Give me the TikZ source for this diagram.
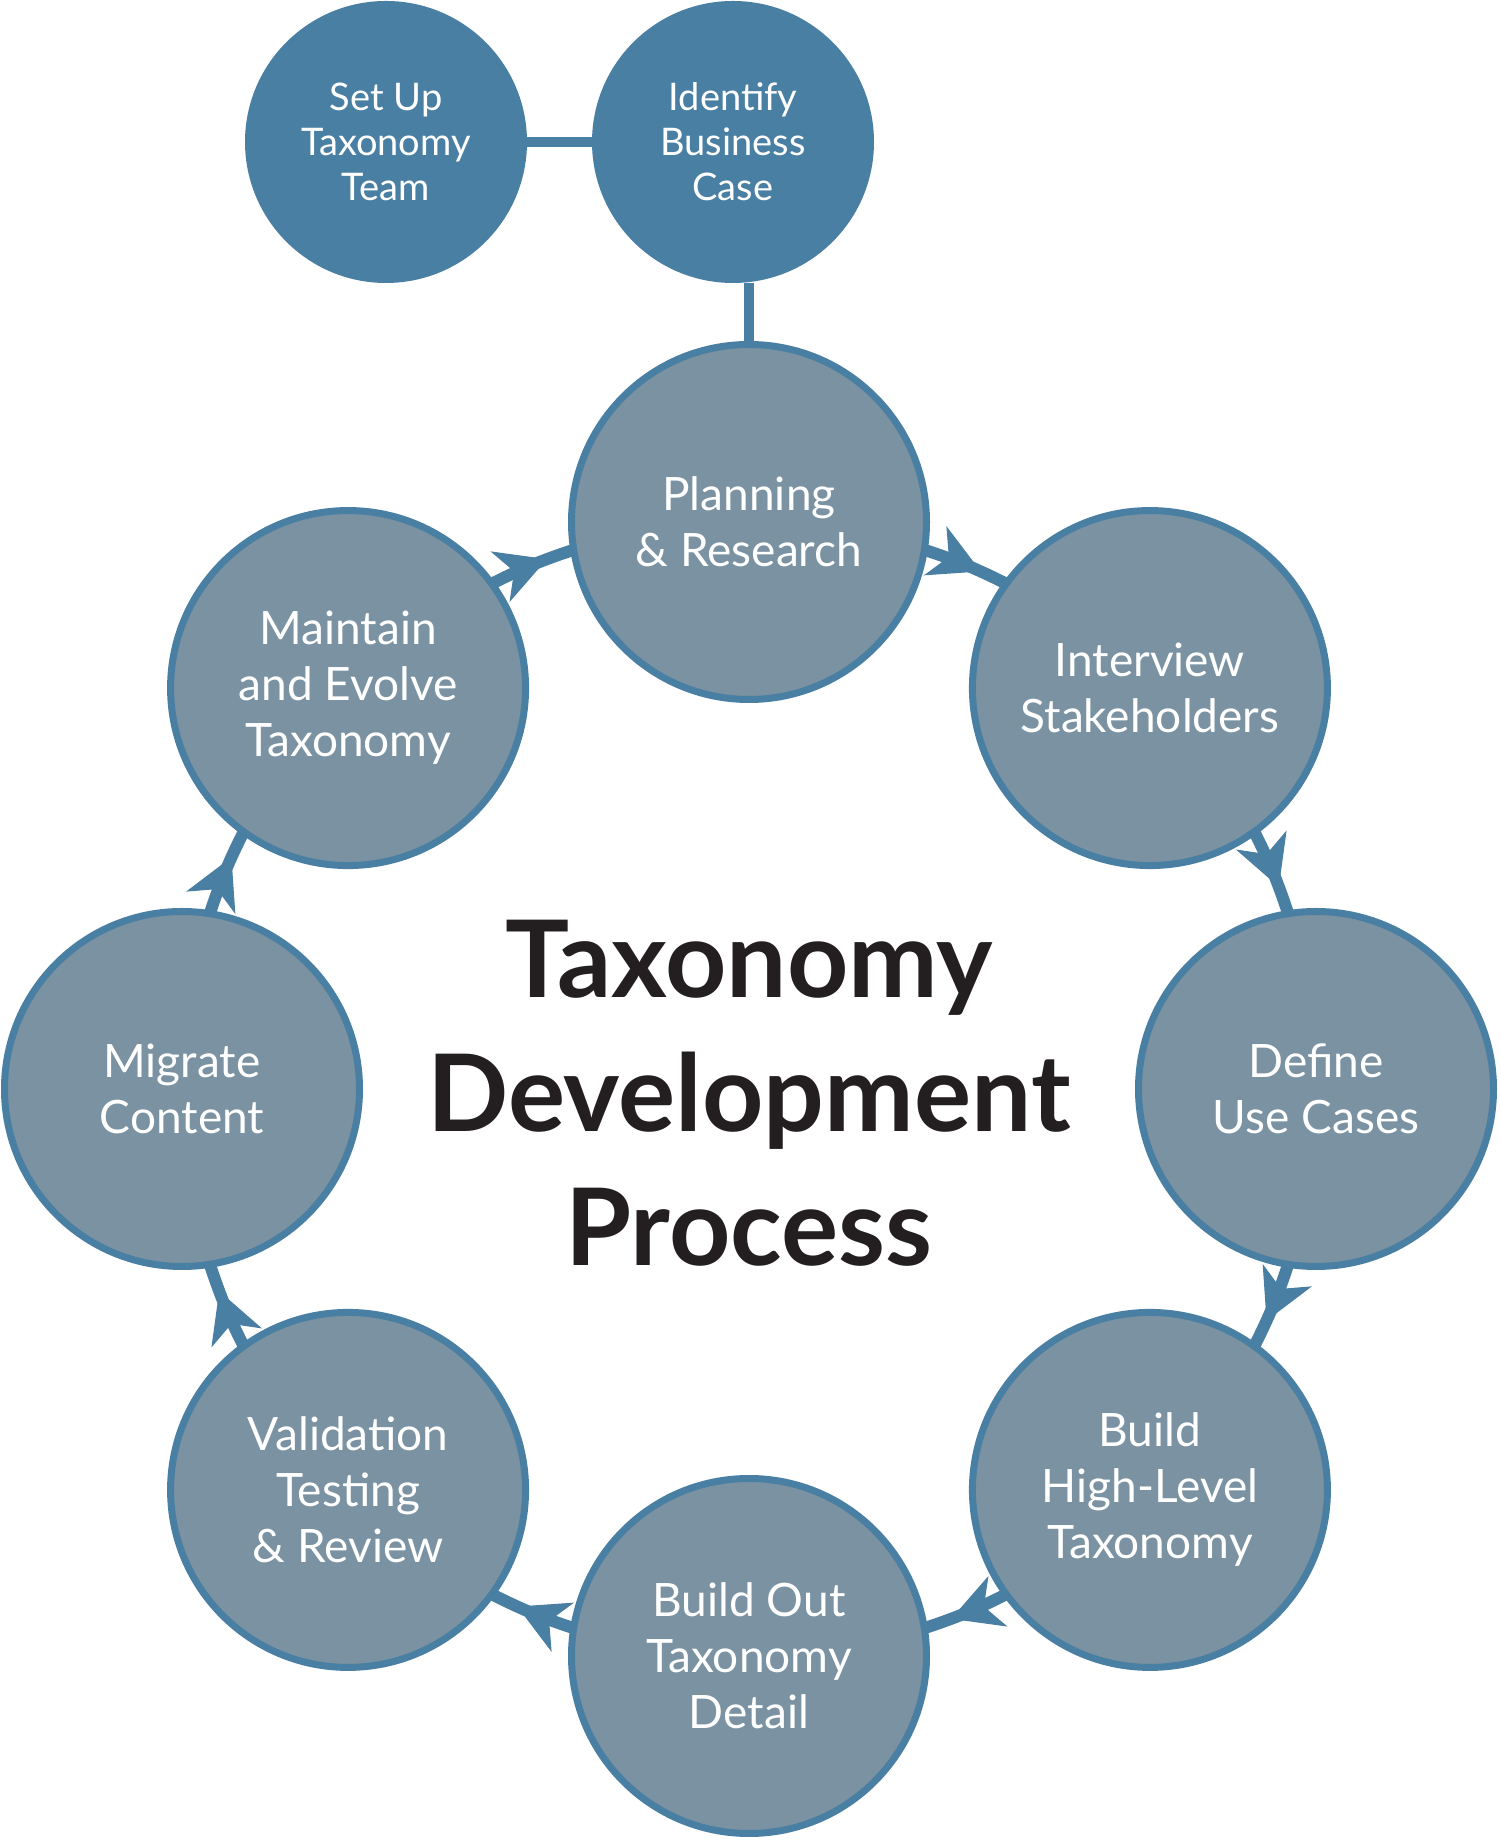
\documentclass[tikz,border=0pt]{standalone}
\usepackage{fontspec}
\setmainfont{Lato}
\usetikzlibrary{arrows.meta,calc,decorations.markings}
\definecolor{bluec}{HTML}{4A7FA4}
\definecolor{grayc}{HTML}{7A92A1}
\definecolor{titlec}{HTML}{231F20}
\tikzset{
  mainc/.style={circle, fill=grayc, draw=bluec, line width=7pt, minimum size=355pt, inner sep=0pt, align=center, text=white, font=\fontsize{46}{56}\selectfont},
  topc/.style={circle, fill=bluec, minimum size=282pt, inner sep=0pt, align=center, text=white, font=\fontsize{38}{45}\selectfont},
  link/.style={draw=bluec, line width=10pt},
  conn/.style={draw=bluec, line width=12pt, bend left=4.1, postaction={decorate},
    decoration={markings, mark=at position 0.68 with {\arrow[bluec]{Stealth[length=50pt,width=54pt,inset=15pt,line width=1pt]}}}},
}
\begin{document}
\begin{tikzpicture}[x=1pt,y=1pt]
\fill[white] (0,0) rectangle (1500,1840);
\useasboundingbox (0,0) rectangle (1500,1840);
\coordinate (O) at (749,751);
\node[topc] (setup) at (386,1698) {Set Up\\Taxonomy\\Team};
\node[topc] (ident) at (733,1698) {Identify\\Business\\Case};
\node[mainc] (plan) at ($(O)+(90:567)$) {Planning\\\&~Research};
\node[mainc] (inter) at ($(O)+(45:567)$) {Interview\\Stakeholders};
\node[mainc] (define) at ($(O)+(0:567)$) {Define\\Use Cases};
\node[mainc] (build) at ($(O)+(-45:567)$) {Build\\High-Level\\Taxonomy};
\node[mainc] (buildout) at ($(O)+(-90:567)$) {Build Out\\Taxonomy\\Detail};
\node[mainc] (valid) at ($(O)+(-135:567)$) {Validation\\Testing\\\&~Review};
\node[mainc] (migrate) at ($(O)+(180:567)$) {Migrate\\Content};
\node[mainc] (maintain) at ($(O)+(135:567)$) {Maintain\\and Evolve\\Taxonomy};
\node[align=center, text=titlec, font=\bfseries\fontsize{107}{134}\selectfont] (title) at (749,747) {Taxonomy\\Development\\Process};
\draw[link] (setup) -- (ident);
\draw[link] (plan.north) -- (plan.north |- ident.south);
\foreach \s/\t in {plan/inter, inter/define, define/build, build/buildout, buildout/valid, valid/migrate, migrate/maintain, maintain/plan}{
  \draw[conn] ($(O)!1!-18:(\s)$) to ($(O)!1!18:(\t)$);
}
\end{tikzpicture}
\end{document}
